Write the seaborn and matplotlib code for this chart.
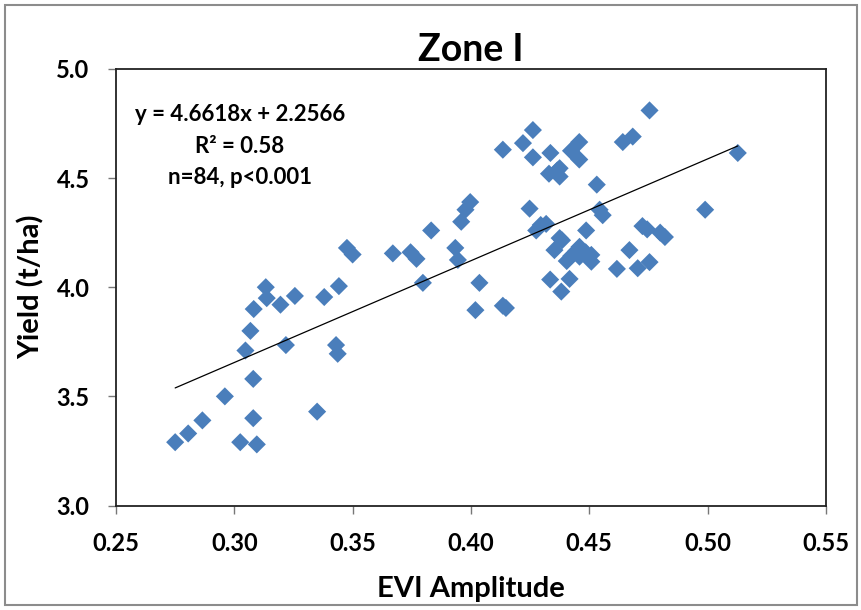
import numpy as np
import pandas as pd
import matplotlib
matplotlib.use("Agg")
import matplotlib.pyplot as plt
import seaborn as sns
from matplotlib.patches import Rectangle

evi_amplitude = [
    0.275, 0.2805, 0.2865, 0.296, 0.3025, 0.3095, 0.308, 0.335, 0.308, 0.3047,
    0.3068, 0.3082, 0.3133, 0.3137, 0.3195, 0.3256, 0.3218, 0.338, 0.3442, 0.343,
    0.3437, 0.3476, 0.350, 0.367, 0.3745, 0.377, 0.3797, 0.3832, 0.3934, 0.3945,
    0.3959, 0.3977, 0.3997, 0.4036, 0.4019, 0.4135, 0.4148, 0.4135, 0.422, 0.4262,
    0.4262, 0.4248, 0.4276, 0.4318, 0.4336, 0.433, 0.4375, 0.4375, 0.4423, 0.4458,
    0.4458, 0.4532, 0.4642, 0.4684, 0.4755, 0.5128, 0.499, 0.4544, 0.4557, 0.4487,
    0.4375, 0.4353, 0.4459, 0.4424, 0.4459, 0.4509, 0.4509, 0.4335, 0.4417, 0.4382,
    0.467, 0.4617, 0.4705, 0.4755, 0.4725, 0.4745, 0.480, 0.482, 0.4405, 0.4485,
    0.4445, 0.4385, 0.4295, 0.4365,
]
yield_t_ha = [
    3.29, 3.33, 3.39, 3.50, 3.29, 3.28, 3.40, 3.43, 3.58, 3.71,
    3.80, 3.90, 4.00, 3.95, 3.92, 3.96, 3.735, 3.955, 4.005, 3.735,
    3.695, 4.18, 4.15, 4.155, 4.16, 4.13, 4.02, 4.26, 4.18, 4.125,
    4.30, 4.355, 4.39, 4.02, 3.895, 3.915, 3.905, 4.63, 4.66, 4.72,
    4.595, 4.36, 4.26, 4.29, 4.615, 4.52, 4.545, 4.507, 4.625, 4.665,
    4.585, 4.47, 4.665, 4.69, 4.81, 4.615, 4.355, 4.355, 4.33, 4.26,
    4.225, 4.17, 4.185, 4.143, 4.14, 4.148, 4.117, 4.035, 4.038, 3.98,
    4.17, 4.084, 4.087, 4.115, 4.28, 4.265, 4.25, 4.23, 4.12, 4.16,
    4.165, 4.215, 4.285, 4.535,
]
fit_coeffs = [4.6618, 2.2566]  # slope, intercept
title = "Zone I"
equation_text = "y = 4.6618x + 2.2566\nR² = 0.58\nn=84, p<0.001"
x_ticks = [0.25, 0.30, 0.35, 0.40, 0.45, 0.50, 0.55]
y_ticks = [3.0, 3.5, 4.0, 4.5, 5.0]

df = pd.DataFrame({"EVI Amplitude": evi_amplitude, "Yield (t/ha)": yield_t_ha})

sns.set_theme(style="white")
plt.rcParams['font.family'] = ['Lato', 'DejaVu Sans']
plt.rcParams['text.color'] = 'black'
plt.rcParams['axes.labelcolor'] = 'black'
plt.rcParams['xtick.color'] = 'black'
plt.rcParams['ytick.color'] = 'black'

fig = plt.figure(figsize=(8.62, 6.10), dpi=100)
ax = fig.add_axes([0.1346, 0.1713, 0.958 - 0.1346, 0.887 - 0.1713])

sns.scatterplot(data=df, x="EVI Amplitude", y="Yield (t/ha)", marker="D",
                s=85, color="#4a7ebb", edgecolor="none", ax=ax, zorder=2)

xl = np.array([min(evi_amplitude), max(evi_amplitude)])
line_df = pd.DataFrame({"x": xl, "y": fit_coeffs[0] * xl + fit_coeffs[1]})
sns.lineplot(data=line_df, x="x", y="y", color="black", linewidth=0.9, ax=ax, zorder=3)

ax.set_xlim(0.25, 0.55)
ax.set_ylim(3.0, 5.0)
ax.set_xticks(x_ticks)
ax.set_yticks(y_ticks)
ax.set_xticklabels([f"{v:.2f}" for v in x_ticks], fontsize=17, fontweight="bold")
ax.set_yticklabels([f"{v:.1f}" for v in y_ticks], fontsize=17, fontweight="bold")
ax.tick_params(axis="x", direction="out", length=6, width=1, color="#777777",
               labelcolor="black", bottom=True, pad=13)
ax.tick_params(axis="y", direction="out", length=6, width=1, color="#777777",
               labelcolor="black", left=True, pad=13)
for sp in ax.spines.values():
    sp.set_color("#222222")
    sp.set_linewidth(1.3)
    sp.set_visible(True)

ax.set_xlabel("EVI Amplitude", fontsize=21, fontweight="bold", color="black")
ax.set_ylabel("Yield (t/ha)", fontsize=21, fontweight="bold", color="black")
ax.xaxis.set_label_coords(0.5, -0.161)
ax.yaxis.set_label_coords(-0.100, 0.5)
ax.set_title(title, fontsize=27, fontweight="bold", pad=6, color="black")

ax.text(0.1746, 0.823, equation_text, transform=ax.transAxes, ha="center", va="center",
        fontsize=16, fontweight="bold", linespacing=1.62, multialignment="center",
        color="black")

fig.patches.append(Rectangle((0.006, 0.008), 0.988, 0.984, transform=fig.transFigure,
                             fill=False, edgecolor="#8c8c8c", linewidth=1.5))

fig.savefig("out.png", dpi=100)
